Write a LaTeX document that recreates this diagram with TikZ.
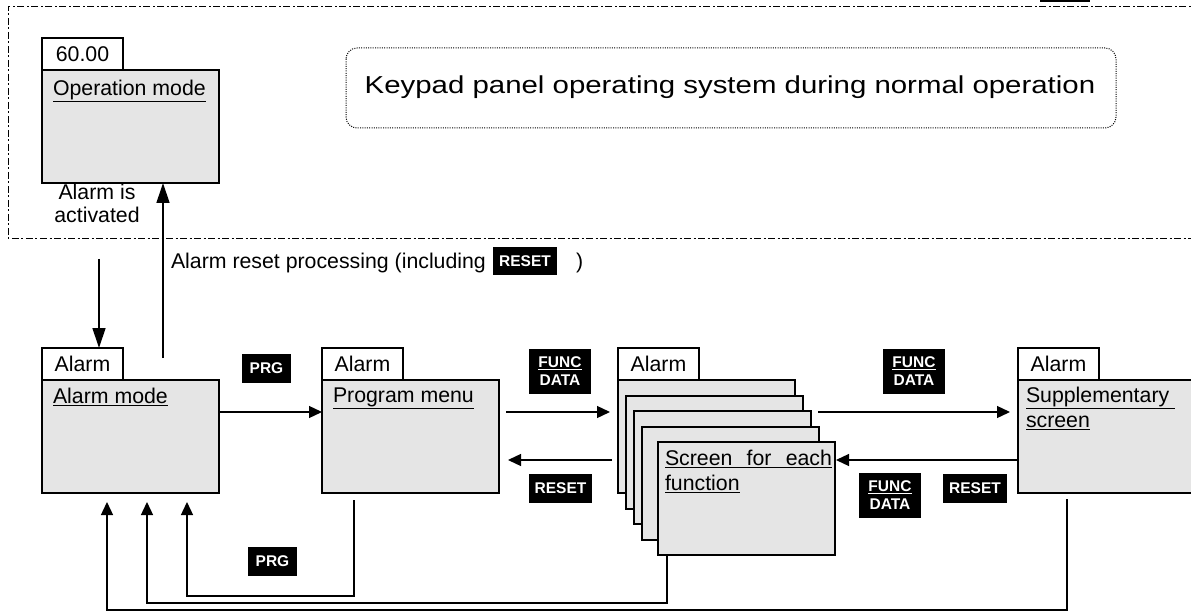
\documentclass[tikz,border=0pt]{standalone}
\usepackage{fontspec}
\setmainfont{Liberation Sans}
\usetikzlibrary{arrows.meta,calc}
\definecolor{boxgray}{RGB}{229,229,229}
\tikzset{
  lbl/.style={inner sep=0pt, outer sep=0pt, font=\fontsize{21.3}{25}\selectfont},
  scrbox/.style={draw, line width=1.3pt, fill=boxgray, minimum width=177pt, minimum height=113pt, inner sep=0pt, outer sep=0pt, anchor=north west},
  tabbox/.style={draw, line width=1.3pt, fill=white, minimum width=81pt, minimum height=32pt, inner sep=0pt, outer sep=0pt, anchor=north west, font=\fontsize{21.3}{25}\selectfont},
  keybox/.style={fill=black, text=white, inner sep=0pt, outer sep=0pt, minimum height=29pt, font=\bfseries\fontsize{15.5}{18}\selectfont, align=center},
  fdbox/.style={keybox, minimum width=62pt, minimum height=45pt},
  arr/.style={-{Triangle[length=13pt,width=12pt]}, line width=1.3pt},
  arrL/.style={-{Triangle[length=20pt,width=13pt]}, line width=1.3pt},
  frame/.style={line width=0.9pt, dash pattern=on 7pt off 2.5pt on 2pt off 2.5pt},
  titlebox/.style={draw, line width=1pt, dash pattern=on 1pt off 1.3pt, rounded corners=11pt}
}
\begin{document}
\begin{tikzpicture}[x=1pt,y=-1pt]
\useasboundingbox (0,0) rectangle (1191,612);
\clip (0,0) rectangle (1191,612);

% outer dash-dot frame
\draw[frame] (1200,6) -- (8,6) -- (8,238) -- (1200,238);
\fill (1040,0) rectangle (1090,2.5);

% title
\draw[titlebox] (346,48) rectangle (1116,128);
\node[lbl, anchor=base] (title) at (730,94) {\scalebox{1.2}[1]{\fontsize{24.5}{28}\selectfont Keypad panel operating system during normal operation}};

% operation mode
\node[tabbox] (ot) at (42,38) {60.00};
\node[scrbox] (om) at (42,70) {};
\node[lbl, anchor=north west] (omt) at (53,80) {\underline{Operation mode}};
\node[lbl, anchor=north, align=center, font=\fontsize{21.3}{23}\selectfont] (act) at (97,184) {Alarm is\\activated};

% alarm mode
\node[tabbox] (at) at (42,348) {Alarm};
\node[scrbox] (am) at (42,380) {};
\node[lbl, anchor=north west] (amt) at (53,388) {\underline{Alarm mode}};

% program menu
\node[tabbox] (pt) at (322,348) {Alarm};
\node[scrbox] (pm) at (322,380) {};
\node[lbl, anchor=north west] (pmt) at (333,388) {\underline{Program menu}};

% stack of function screens
\node[tabbox] (st) at (618,348) {Alarm};
\node[scrbox] (s1) at (618,380) {};
\node[scrbox] (s2) at (626,396) {};
\node[scrbox] (s3) at (634,411) {};
\node[scrbox] (s4) at (642,427) {};
\node[scrbox] (s5) at (658,442) {};
\node[lbl, anchor=north west, align=left] (s5t) at (665,450) {\underline{\makebox[167pt][s]{Screen for each}}\\\underline{function}};

% supplementary screen
\node[tabbox] (spt) at (1018,348) {Alarm};
\node[scrbox] (sp) at (1018,380) {};
\node[lbl, anchor=north west, align=left] (spt2) at (1026,387) {\underline{Supplementary\ }\\\underline{screen}};

% key labels
\node[keybox, minimum width=49pt] (prg1) at (266.5,368.5) {PRG};
\node[keybox, minimum width=49pt] (prg2) at (272.5,561.5) {PRG};
\node[fdbox] (fd1) at (560,371.5) {\underline{FUNC}\\DATA};
\node[keybox, minimum width=63pt] (rs1) at (560.5,488.5) {RESET};
\node[fdbox] (fd2) at (914,371.5) {\underline{FUNC}\\DATA};
\node[fdbox] (fd3) at (890,495.5) {\underline{FUNC}\\DATA};
\node[keybox, minimum width=64pt] (rs2) at (975,488.5) {RESET};

% alarm reset label
\node[lbl, anchor=base west] (rtxt) at (171,269) {Alarm reset processing (including};
\node[keybox, minimum width=64pt, minimum height=28pt] (rs0) at (525,261) {RESET};
\node[lbl, anchor=base west] (rpar) at (576,269) {)};

% connectors
\coordinate (d0) at (99,259);
\draw[arrL] (d0) -- (d0 |- at.north);
\coordinate (r0) at (163,358);
\draw[arrL] (r0) -- (r0 |- om.south);

\draw[arr] ($(am.north east)+(0,32)$) -- ($(pm.north west)+(0,32)$);
\coordinate (a1) at (506,412); \coordinate (a2) at (610,412);
\draw[arr] (a1) -- (a2);
\coordinate (b1) at (612,460); \coordinate (b2) at (508,460);
\draw[arr] (b1) -- (b2);
\coordinate (c1) at (818,412); \coordinate (c2) at (1010,412);
\draw[arr] (c1) -- (c2);
\draw[arr] ($(sp.north west)+(0,80)$) -- ($(s5.north east)+(1,18)$);

\coordinate (p1) at (354,500); \coordinate (q1) at (187,502);
\draw[arr] (p1) -- ++(0,96) -| (q1);
\coordinate (q2) at (147,502);
\draw[arr] ($(s5.south west)+(9,0)$) -- (667,603) -| (q2);
\coordinate (p3) at (1067,499); \coordinate (q3) at (107,502);
\draw[arr] (p3) -- ++(0,111) -| (q3);
\end{tikzpicture}
\end{document}
